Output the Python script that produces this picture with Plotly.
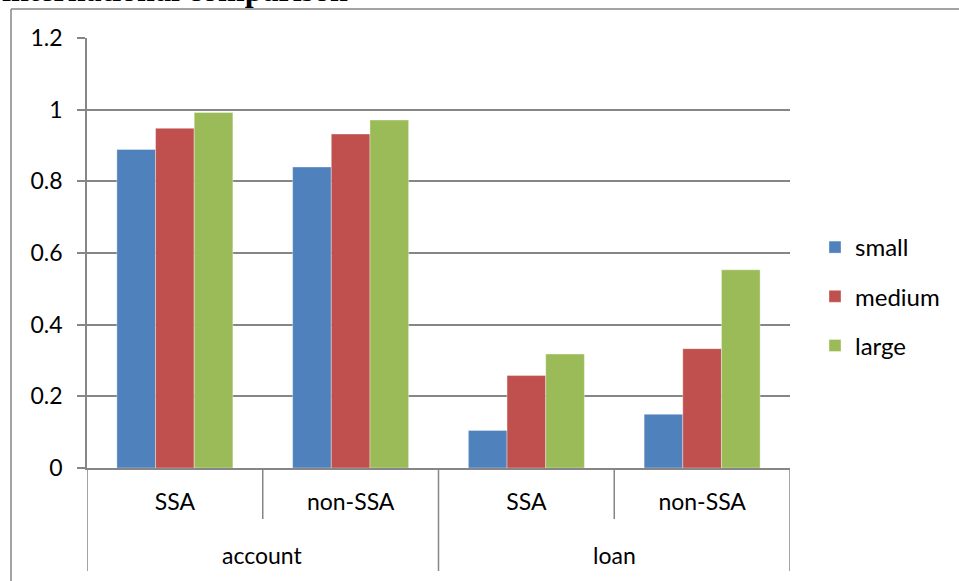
import plotly.graph_objects as go

groups = ["account", "account", "loan", "loan"]
regions = ["SSA", "non-SSA", "SSA", "non-SSA"]
outer_labels = ["account", "loan"]
sizes = ["small", "medium", "large"]
small = [0.889, 0.840, 0.105, 0.150]
medium = [0.948, 0.932, 0.258, 0.333]
large = [0.992, 0.971, 0.318, 0.553]
colors = ["#4F81BD", "#C0504D", "#9BBB59"]
y_ticks = [0, 0.2, 0.4, 0.6, 0.8, 1.0, 1.2]

W, H = 959, 581
ML, MR, MT, MB = 87, 169, 38, 113
PW, PH = W - ML - MR, H - MT - MB

def py(pix):
    return (H - MB - pix) / PH

def px(pix):
    return (pix - ML) / PW

xpos = list(range(len(regions)))
fig = go.Figure()
for name, vals, col in zip(sizes, [small, medium, large], colors):
    fig.add_trace(go.Bar(
        x=xpos, y=vals, name=name, legendgroup=name,
        marker=dict(color=col, line=dict(color="rgba(255,255,255,0.6)", width=0.6)),
    ))

GRAY = "#868686"
shapes = []
# divider lines below the x axis
for i in range(len(regions) + 1):
    b = i - 0.5
    is_outer = (i == 0 or i == len(regions) or groups[i - 1] != groups[i])
    shapes.append(dict(type="line", xref="x", yref="paper", x0=b, x1=b,
                       y0=0, y1=py(571) if is_outer else py(519),
                       line=dict(color=GRAY, width=1.5)))
# outer frame (partially visible)
shapes.append(dict(type="line", xref="paper", yref="paper", x0=px(11), x1=px(11),
                   y0=py(9), y1=py(600), line=dict(color=GRAY, width=1.5)))
shapes.append(dict(type="line", xref="paper", yref="paper", x0=px(11), x1=px(980),
                   y0=py(9), y1=py(9), line=dict(color=GRAY, width=1.5)))

annotations = []
for g in outer_labels:
    idx = [i for i, gg in enumerate(groups) if gg == g]
    annotations.append(dict(x=(idx[0] + idx[-1]) / 2, xref="x", y=py(555), yref="paper",
                            text=g, showarrow=False, yanchor="middle",
                            font=dict(family="Lato", size=23, color="black")))
annotations.append(dict(x=px(0), xref="paper", y=py(10), yref="paper", xanchor="left",
                        yanchor="bottom", text="<b>international comparison</b>", showarrow=False,
                        font=dict(family="Liberation Serif", size=32, color="black")))

fig.update_layout(
    width=W, height=H,
    margin=dict(l=ML, r=MR, t=MT, b=MB, pad=0),
    paper_bgcolor="white", plot_bgcolor="white",
    barmode="group", bargap=0.34, bargroupgap=0,
    font=dict(family="Lato", size=23, color="black"),
    showlegend=True,
    legend=dict(x=px(815), xanchor="left", y=py(296.5), yanchor="middle",
                font=dict(family="Lato", size=24, color="black"),
                tracegroupgap=15, bgcolor="rgba(0,0,0,0)", traceorder="grouped"),
    xaxis=dict(range=[-0.5, len(regions) - 0.5], tickvals=xpos, ticktext=regions,
               showgrid=False, zeroline=False, showline=True, linecolor=GRAY, linewidth=1.5,
               ticks="", ticklabelstandoff=13, fixedrange=True),
    yaxis=dict(range=[0, 1.2], tickvals=y_ticks, showgrid=True, gridcolor=GRAY, gridwidth=1.5,
               zeroline=False, showline=True, linecolor=GRAY, linewidth=1.5,
               ticks="outside", ticklen=8, tickcolor=GRAY, tickwidth=1.5,
               ticklabelstandoff=10),
    shapes=shapes, annotations=annotations,
)
fig.write_html("out.html")
